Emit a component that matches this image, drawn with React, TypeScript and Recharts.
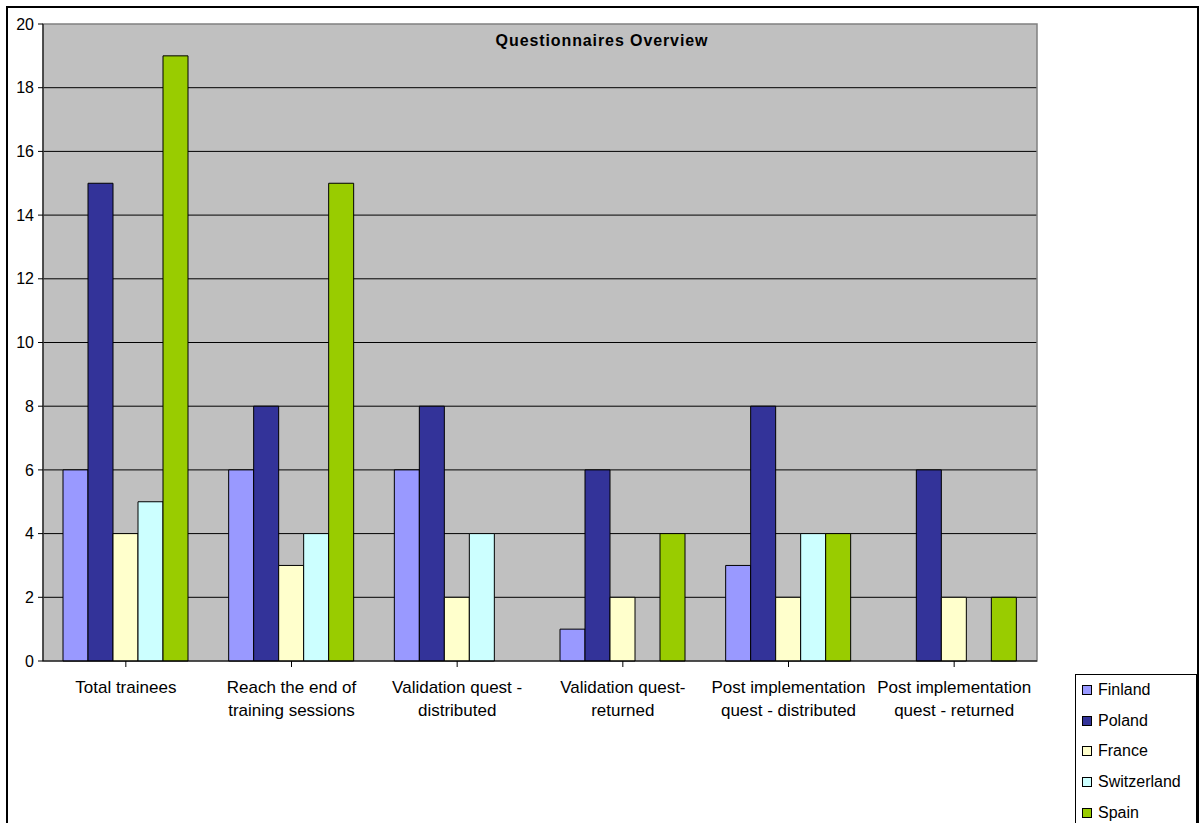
import React from 'react';
import { BarChart, Bar, XAxis, YAxis, CartesianGrid, Legend, ReferenceArea } from 'recharts';

const categories = [
  'Total trainees',
  'Reach the end of\ntraining sessions',
  'Validation quest -\ndistributed',
  'Validation quest-\nreturned',
  'Post implementation\nquest - distributed',
  'Post implementation\nquest - returned',
];
const finland = [6, 6, 6, 1, 3, null];
const poland = [15, 8, 8, 6, 8, 6];
const france = [4, 3, 2, 2, 2, 2];
const switzerland = [5, 4, 4, null, 4, null];
const spain = [19, 15, null, 4, 4, 2];
const yTicks = [0, 2, 4, 6, 8, 10, 12, 14, 16, 18, 20];

const seriesNames = ['Finland', 'Poland', 'France', 'Switzerland', 'Spain'];
const seriesColors = ['#9999FF', '#333399', '#FFFFCC', '#CCFFFF', '#99CC00'];
const seriesValues = [finland, poland, france, switzerland, spain];

const data = categories.map((c, i) => {
  const row: any = { category: c };
  seriesNames.forEach((n, k) => { row[n] = seriesValues[k][i]; });
  return row;
});

const FONT = '"Liberation Sans", Arial, sans-serif';

const CategoryTick = (props: any) => {
  const { x, y, payload } = props;
  const lines = String(payload.value).split('\n');
  return (
    <g>
      {lines.map((l, i) => (
        <text key={i} x={x} y={y + 23.5 + i * 23} textAnchor="middle" fontFamily={FONT} fontSize={17} fill="#000">
          {l}
        </text>
      ))}
    </g>
  );
};

const LegendContent = () => (
  <div style={{ border: '1px solid #000', background: '#fff', width: 122, height: 170, boxSizing: 'border-box', fontFamily: FONT, fontSize: 16, color: '#000', position: 'relative' }}>
    {seriesNames.map((n, i) => (
      <div key={n} style={{ position: 'absolute', left: 6, top: 5 + i * 30.7, height: 20, display: 'flex', alignItems: 'center', whiteSpace: 'nowrap' }}>
        <span style={{ display: 'inline-block', width: 8, height: 8, background: seriesColors[i], border: '1px solid #000', marginRight: 6 }} />
        <span>{n}</span>
      </div>
    ))}
  </div>
);

export default function App() {
  return (
    <div style={{ position: 'absolute', left: 0, top: 0, width: 1200, height: 823, overflow: 'hidden', background: '#fff' }}>
      <div style={{ position: 'absolute', left: 6, top: 6, width: 1193, height: 840, border: '2px solid #000', boxSizing: 'border-box' }} />
      <div style={{ position: 'absolute', left: 0, top: 0 }}>
        <BarChart
          width={1200}
          height={823}
          data={data}
          margin={{ top: 24, right: 163, bottom: 102, left: 0 }}
          barCategoryGap={20}
          barGap={0}
        >
          <CartesianGrid vertical={false} stroke="#000" fill="#C0C0C0" horizontalValues={[2, 4, 6, 8, 10, 12, 14, 16, 18]} />
          <ReferenceArea y1={0} y2={20} fill="none" stroke="#808080" strokeWidth={1.5} ifOverflow="visible" />
          <XAxis
            dataKey="category"
            interval={0}
            height={60}
            tick={<CategoryTick />}
            tickLine={{ stroke: '#000' }}
            axisLine={{ stroke: '#000' }}
            tickSize={6}
          />
          <YAxis
            domain={[0, 20]}
            ticks={yTicks}
            width={43}
            interval={0}
            tickSize={5}
            tickMargin={4}
            tickLine={{ stroke: '#000' }}
            axisLine={{ stroke: '#000' }}
            tick={{ fontFamily: FONT, fontSize: 16, fill: '#000' }}
          />
          <Legend
            layout="vertical"
            align="center"
            verticalAlign="middle"
            content={<LegendContent />}
            wrapperStyle={{ left: 1075, top: 674, width: 122, height: 170 }}
          />
          {seriesNames.map((n, i) => (
            <Bar key={n} dataKey={n} fill={seriesColors[i]} stroke="#000" strokeWidth={1} isAnimationActive={false} />
          ))}
          <text x={602} y={46} textAnchor="middle" fontFamily={FONT} fontSize={16} fontWeight="bold" letterSpacing={0.9} fill="#000">
            Questionnaires Overview
          </text>
        </BarChart>
      </div>
    </div>
  );
}
